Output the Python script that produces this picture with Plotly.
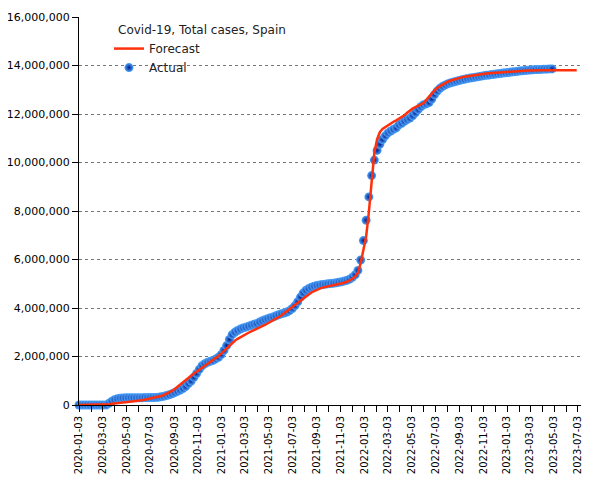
import plotly.graph_objects as go
import pandas as pd

# Weekly sampling starting 2020-01-03
start_date = "2020-01-03"

# Actual total cases (millions), weekly
actual_m = [
    0, 0, 0, 0, 0, 0, 0, 0, 0, 0,
    0.005, 0.07, 0.15, 0.22, 0.26, 0.28, 0.29, 0.295, 0.30, 0.30,
    0.30, 0.30, 0.30, 0.30, 0.305, 0.305, 0.31, 0.31, 0.31, 0.32,
    0.34, 0.36, 0.39, 0.42, 0.46, 0.51, 0.56, 0.62, 0.68, 0.76,
    0.88, 0.99, 1.14, 1.30, 1.47, 1.62, 1.70, 1.76, 1.80, 1.84,
    1.90, 1.97, 2.08, 2.25, 2.45, 2.70, 2.90, 3.00, 3.07, 3.13,
    3.18, 3.21, 3.25, 3.29, 3.33, 3.36, 3.42, 3.47, 3.52, 3.56,
    3.60, 3.63, 3.68, 3.72, 3.76, 3.79, 3.83, 3.89, 3.98, 4.10,
    4.26, 4.45, 4.62, 4.73, 4.80, 4.86, 4.90, 4.93, 4.95, 4.97,
    4.98, 5.00, 5.01, 5.02, 5.04, 5.06, 5.08, 5.11, 5.14, 5.19,
    5.27, 5.37, 5.55, 5.98, 6.78, 7.62, 8.58, 9.46, 10.10, 10.50,
    10.75, 10.95, 11.10, 11.22, 11.30, 11.37, 11.43, 11.55, 11.62, 11.70,
    11.77, 11.83, 11.93, 12.05, 12.18, 12.30, 12.38, 12.42, 12.47, 12.62,
    12.80, 12.95, 13.06, 13.14, 13.20, 13.25, 13.29, 13.32, 13.35, 13.38,
    13.41, 13.43, 13.46, 13.48, 13.50, 13.52, 13.54, 13.56, 13.58, 13.60,
    13.61, 13.63, 13.64, 13.66, 13.67, 13.69, 13.70, 13.71, 13.73, 13.74,
    13.75, 13.77, 13.78, 13.79, 13.80, 13.81, 13.82, 13.83, 13.83, 13.84,
    13.85, 13.85, 13.86, 13.86,
]

# Forecast total cases (millions), weekly
forecast_m = [
    0, 0, 0, 0, 0, 0, 0, 0, 0, 0,
    0.01, 0.03, 0.05, 0.07, 0.08, 0.09, 0.10, 0.11, 0.12, 0.14,
    0.15, 0.17, 0.19, 0.20, 0.22, 0.24, 0.26, 0.28, 0.30, 0.33,
    0.37, 0.41, 0.46, 0.51, 0.58, 0.66, 0.75, 0.85, 0.95, 1.05,
    1.14, 1.22, 1.30, 1.37, 1.45, 1.52, 1.60, 1.67, 1.75, 1.84,
    1.93, 2.02, 2.12, 2.23, 2.34, 2.46, 2.56, 2.65, 2.73, 2.80,
    2.86, 2.92, 2.98, 3.04, 3.10, 3.15, 3.20, 3.25, 3.30, 3.36,
    3.42, 3.48, 3.54, 3.61, 3.69, 3.78, 3.87, 3.96, 4.04, 4.13,
    4.23, 4.32, 4.40, 4.48, 4.56, 4.64, 4.70, 4.76, 4.80, 4.84,
    4.87, 4.90, 4.93, 4.95, 4.97, 4.99, 5.01, 5.04, 5.08, 5.14,
    5.20, 5.30, 5.45, 5.85, 6.40, 6.95, 7.95, 9.10, 10.40, 10.95,
    11.25, 11.38, 11.46, 11.54, 11.61, 11.68, 11.74, 11.80, 11.87, 11.95,
    12.05, 12.15, 12.22, 12.28, 12.34, 12.39, 12.45, 12.58, 12.72, 12.85,
    12.97, 13.08, 13.15, 13.22, 13.28, 13.34, 13.38, 13.42, 13.45, 13.48,
    13.51, 13.54, 13.56, 13.58, 13.60, 13.62, 13.63, 13.65, 13.66, 13.67,
    13.68, 13.69, 13.70, 13.71, 13.72, 13.73, 13.73, 13.74, 13.75, 13.75,
    13.76, 13.77, 13.77, 13.78, 13.79, 13.79, 13.80, 13.80, 13.80, 13.80,
    13.80, 13.80, 13.80, 13.80, 13.80, 13.80, 13.80, 13.80, 13.80, 13.80,
    13.80, 13.80, 13.80,
]

actual_dates = pd.date_range(start_date, periods=len(actual_m), freq="7D")
forecast_dates = pd.date_range(start_date, periods=len(forecast_m), freq="7D")
actual_vals = [v * 1e6 for v in actual_m]
forecast_vals = [v * 1e6 for v in forecast_m]

legend_title = "Covid-19, Total cases, Spain"

# page body has an 8px margin; figure sized to fit the 605x480 window
W, H = 597, 472
ML, MR, MT, MB = 71, 24, 9, 75
PW, PH = W - ML - MR, H - MT - MB

fig = go.Figure()
fig.add_trace(go.Scatter(
    x=actual_dates, y=actual_vals, mode="markers", name="Actual",
    legendrank=2, cliponaxis=False,
    marker=dict(size=9, color="#4ea6ff",
                gradient=dict(type="radial", color="#001a88"),
                line=dict(width=0)),
))
fig.add_trace(go.Scatter(
    x=forecast_dates, y=forecast_vals, mode="lines", name="Forecast",
    legendrank=1, cliponaxis=False,
    line=dict(color="#ff300c", width=2.5),
))

fig.add_annotation(
    text=legend_title, xref="paper", yref="paper",
    x=(116 - 79) / PW, y=1 - (30 - 17) / PH,
    xanchor="left", yanchor="middle", showarrow=False,
    font=dict(family="DejaVu Sans", size=12, color="#222"),
)

fig.update_layout(
    width=W, height=H,
    margin=dict(l=ML, r=MR, t=MT, b=MB),
    plot_bgcolor="white", paper_bgcolor="white",
    font=dict(family="DejaVu Sans", size=11, color="black"),
    legend=dict(
        font=dict(family="DejaVu Sans", size=12, color="#222"),
        x=(109 - 79) / PW, y=0.956, xanchor="left", yanchor="top",
        bgcolor="rgba(0,0,0,0)", borderwidth=0,
    ),
    xaxis=dict(
        type="date", range=["2020-01-03", "2023-07-11"], automargin=False,
        tick0="2020-01-03", dtick="M2", tickformat="%Y-%m-%d", tickangle=-90,
        ticks="outside", ticklen=6, tickcolor="black",
        showline=True, linecolor="black", linewidth=1,
        showgrid=False, zeroline=False,
        tickfont=dict(family="DejaVu Sans", size=10, color="black"),
        minor=dict(tick0="2020-01-03", dtick="M1", ticks="outside", ticklen=6,
                   tickcolor="black", showgrid=False),
    ),
    yaxis=dict(
        range=[0, 16e6], dtick=2e6, tickformat=",d", automargin=False,
        ticks="outside", ticklen=6, tickcolor="black",
        showline=True, linecolor="black", linewidth=1,
        showgrid=True, gridcolor="#777", griddash="3px,3px", gridwidth=1,
        zeroline=False,
        tickfont=dict(family="DejaVu Sans", size=11, color="black"),
    ),
)

fig.write_html("out.html")
